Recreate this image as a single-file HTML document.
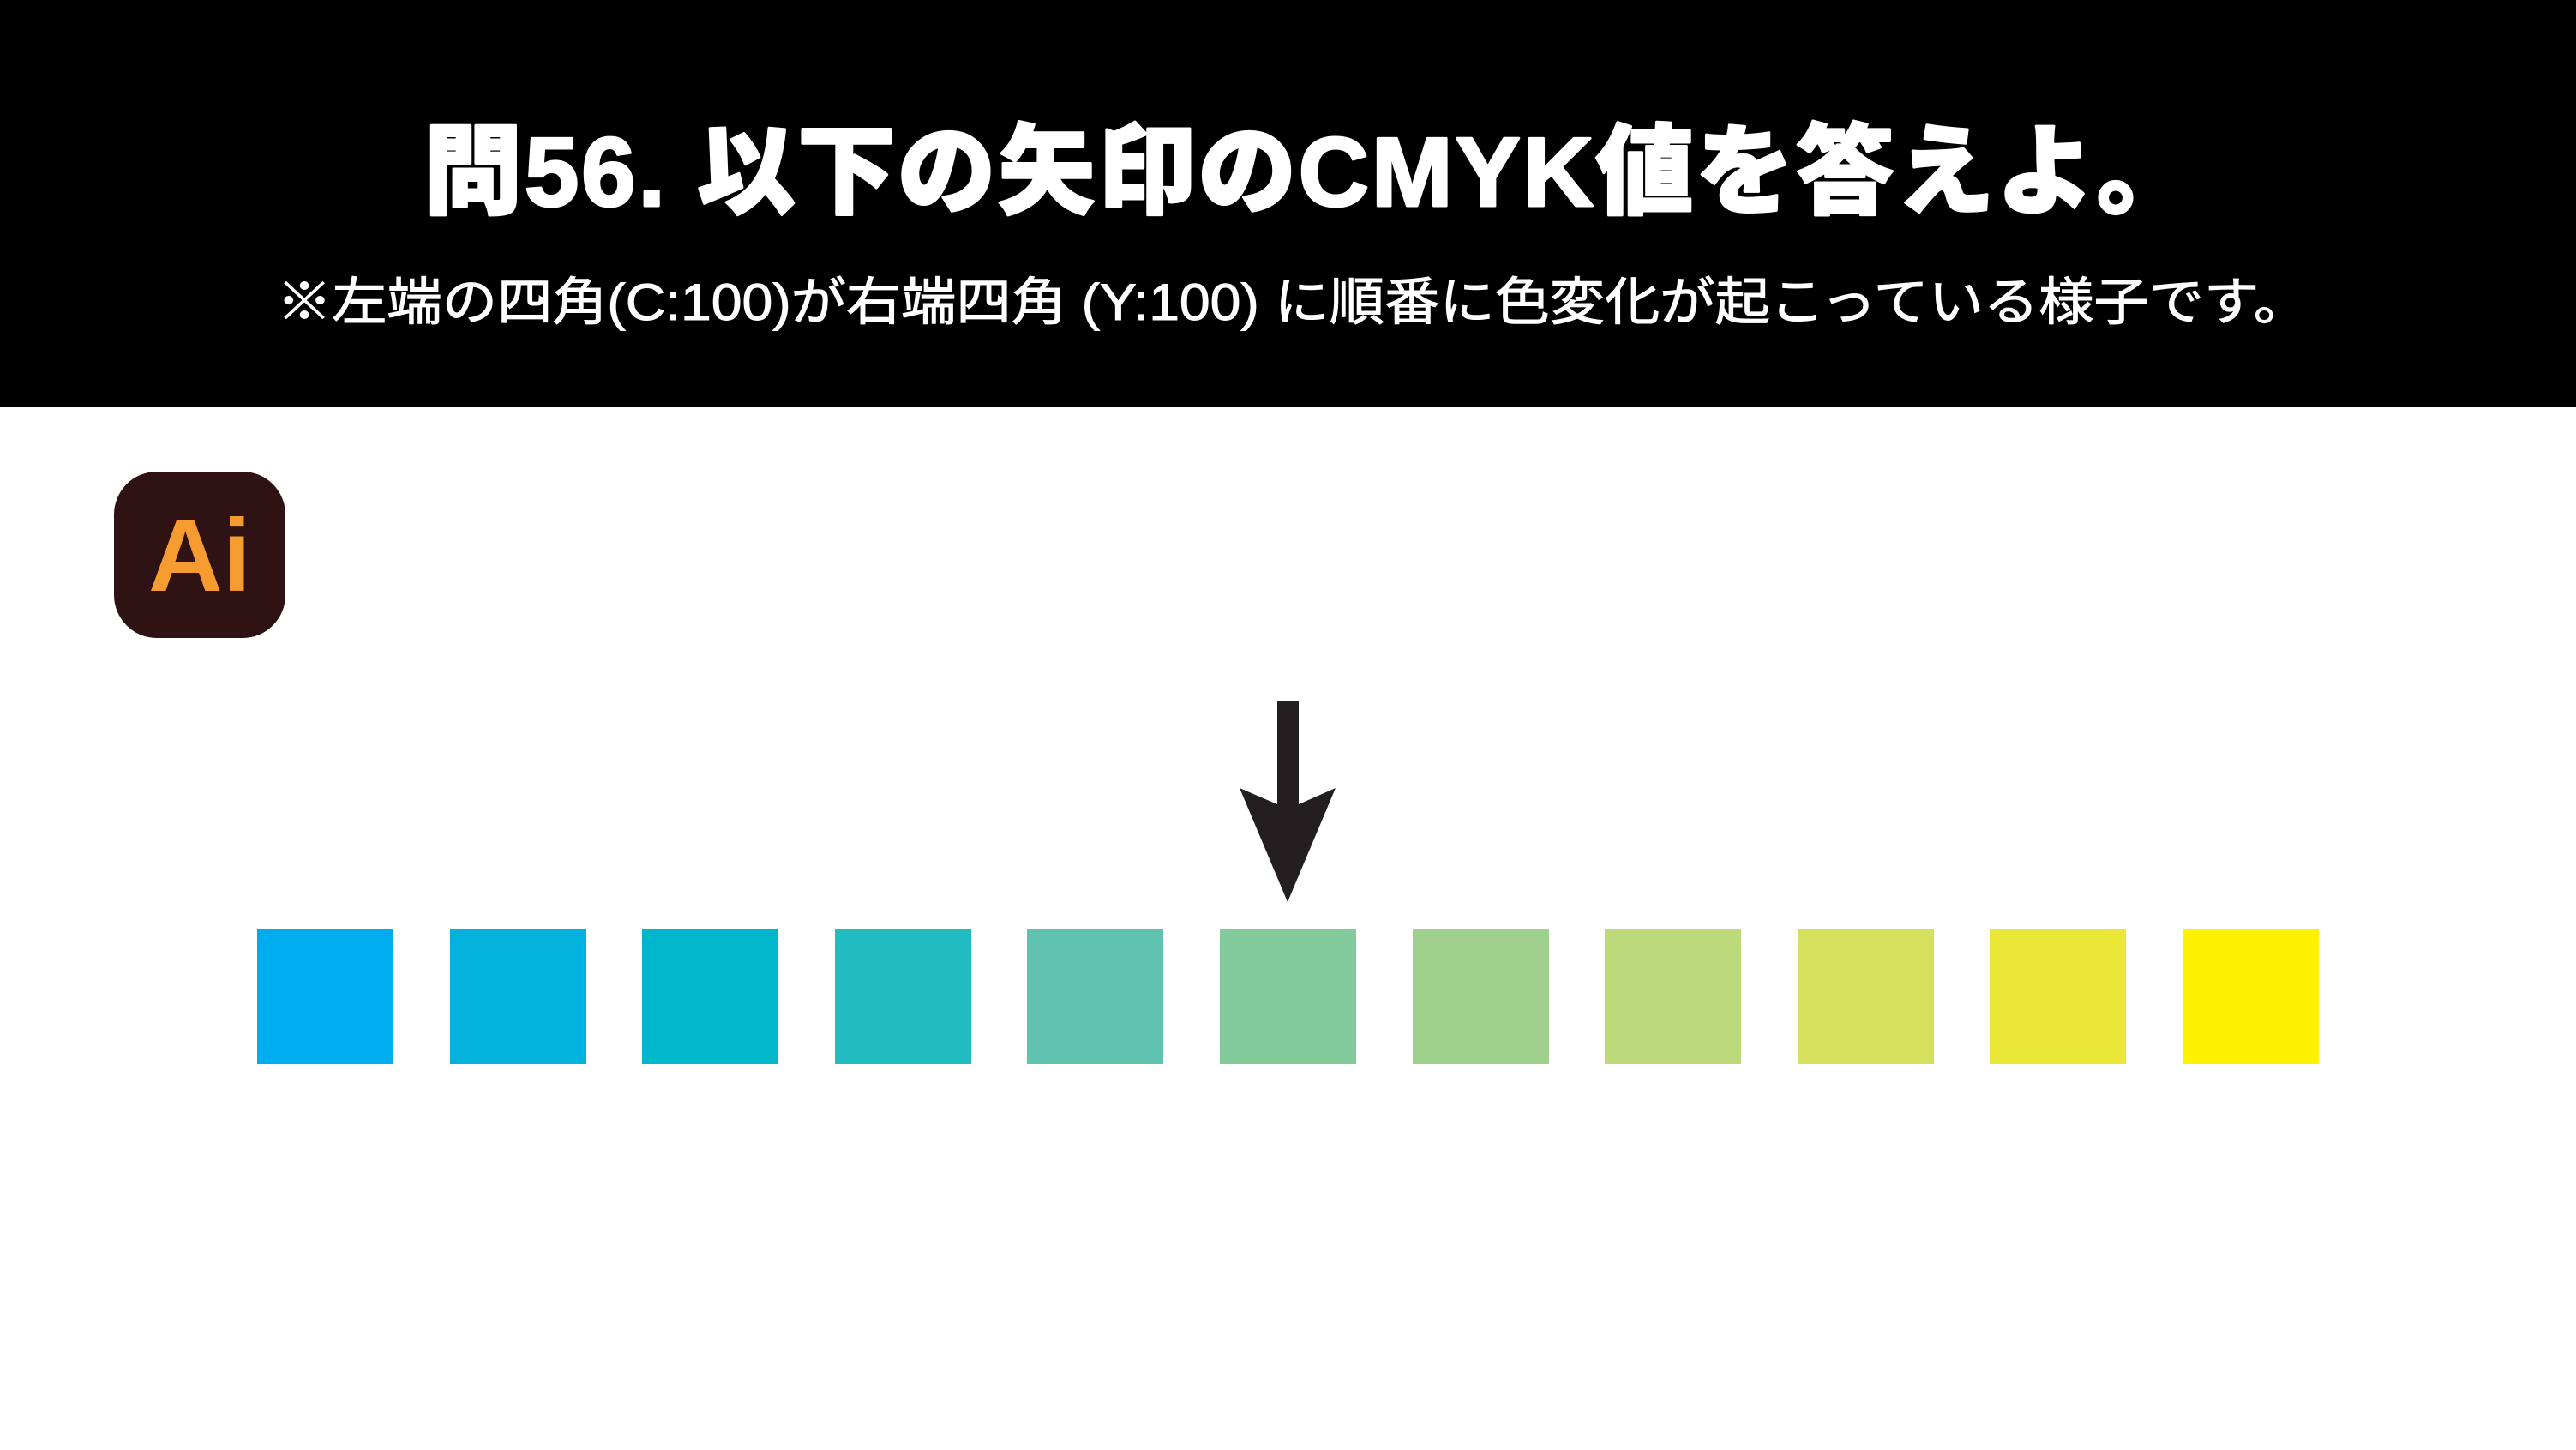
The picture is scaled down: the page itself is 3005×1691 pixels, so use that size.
<!DOCTYPE html>
<html><head><meta charset="utf-8"><style>
html,body{margin:0;padding:0;width:3005px;height:1691px;overflow:hidden;background:#fff}
</style></head><body>
<svg width="3005" height="1691" viewBox="0 0 3005 1691" xmlns="http://www.w3.org/2000/svg">
<rect x="0" y="0" width="3005" height="475" fill="#000"/>
<text x="495" y="240" textLength="2065" lengthAdjust="spacing" font-family="'Liberation Sans','Noto Sans CJK JP',sans-serif" font-weight="900" font-size="114" fill="#fff" stroke="#fff" stroke-width="3" stroke-linejoin="round">問56. 以下の矢印のCMYK値を答えよ。</text>
<text x="323" y="373" textLength="2370" lengthAdjust="spacingAndGlyphs" font-family="'Liberation Sans','Noto Sans CJK JP',sans-serif" font-size="60" fill="#fff" stroke="#fff" stroke-width="1">※左端の四角(C:100)が右端四角 (Y:100) に順番に色変化が起こっている様子です。</text>
<rect x="133" y="550" width="200" height="194" rx="50" ry="50" fill="#2e1214"/>
<text x="233" y="689" text-anchor="middle" font-family="'Liberation Sans',sans-serif" font-weight="bold" font-size="120" fill="#f59b2f">Ai</text>
<g>
<rect x="300" y="1083" width="159" height="158" fill="#00aeef"/>
<rect x="525" y="1083" width="159" height="158" fill="#02b1dc"/>
<rect x="749" y="1083" width="159" height="158" fill="#00b6cb"/>
<rect x="974" y="1083" width="159" height="158" fill="#21bcbf"/>
<rect x="1198" y="1083" width="159" height="158" fill="#5fc3b0"/>
<rect x="1423" y="1083" width="159" height="158" fill="#83ca9b"/>
<rect x="1648" y="1083" width="159" height="158" fill="#9fd08b"/>
<rect x="1872" y="1083" width="159" height="158" fill="#bcda79"/>
<rect x="2097" y="1083" width="159" height="158" fill="#d5e05c"/>
<rect x="2321" y="1083" width="159" height="158" fill="#ebe736"/>
<rect x="2546" y="1083" width="159" height="158" fill="#fff100"/>
</g>
<rect x="1490" y="817" width="25" height="125" fill="#231f20"/>
<polygon points="1446,919 1490,938 1515,938 1558,919 1502,1052" fill="#231f20"/>
</svg>
</body></html>
